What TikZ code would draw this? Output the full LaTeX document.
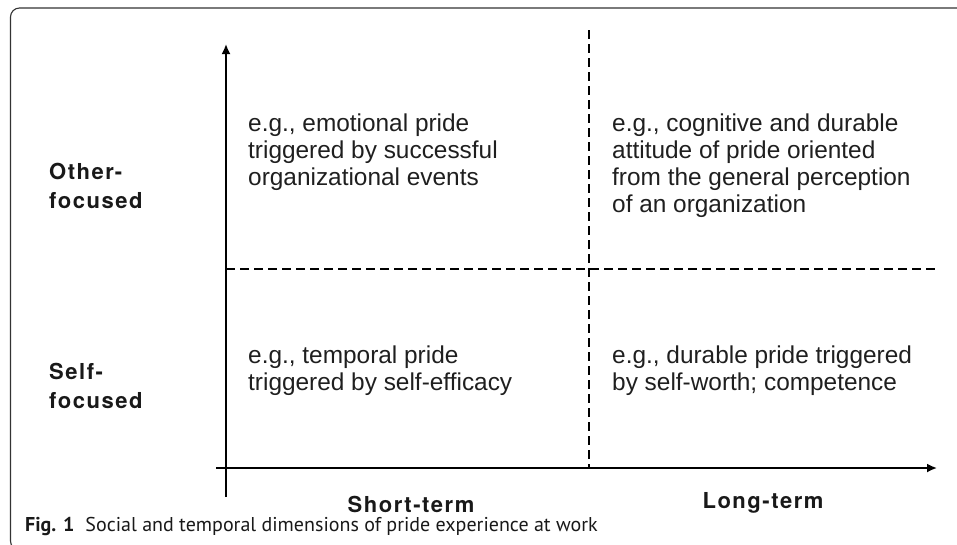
\documentclass[tikz,border=0pt]{standalone}
\usepackage{fontspec}
\setmainfont{Liberation Sans}
\newfontfamily\lblfont[LetterSpace=7]{TeX Gyre Heros}
\newfontfamily\capfont{PT Sans}
\usetikzlibrary{arrows.meta}
\begin{document}
\begin{tikzpicture}[x=1pt,y=-1pt,
  quad/.style={anchor=north west,inner sep=0pt,align=left,text=black!88,
    font=\fontsize{24.4}{27}\selectfont},
  lbl/.style={anchor=north west,inner sep=0pt,align=left,text=black!90,
    font=\lblfont\bfseries\fontsize{22}{28.5}\selectfont},
  axis/.style={line width=1.8pt,-{Latex[length=10pt,width=9pt]}},
  split/.style={line width=1.8pt,dash pattern=on 9pt off 5pt}]
  \useasboundingbox (0,0) rectangle (957,544);
  \draw[line width=1.1pt,black!80,rounded corners=9pt] (10.5,8) rectangle (975,550);

  \coordinate (ybot) at (226,497);
  \coordinate (ytop) at (226,44);
  \coordinate (xleft) at (216,468);
  \coordinate (xright) at (937,468);
  \coordinate (vtop) at (589,30);
  \coordinate (vbot) at (589,468);
  \coordinate (hleft) at (226,269);
  \coordinate (hright) at (935,269);

  \draw[axis] (ybot) -- (ytop);
  \draw[axis] (xleft) -- (xright);
  \draw[split] (vtop) -- (vbot);
  \draw[split] (hleft) -- (hright);

  \node[lbl] (other) at (49,163) {Other-\\focused};
  \node[lbl] (self) at (49,363) {Self-\\focused};
  \node[lbl,anchor=base] (short) at (411,512) {Short-term};
  \node[lbl,anchor=base] (long) at (763,508) {Long-term};

  \node[quad] (ol) at (248,114) {e.g., emotional pride\\triggered by successful\\organizational events};
  \node[quad] (or) at (612,114) {e.g., cognitive and durable\\attitude of pride oriented\\from the general perception\\of an organization};
  \node[quad] (sl) at (248,346) {e.g., temporal pride\\triggered by self-efficacy};
  \node[quad] (sr) at (612,346) {e.g., durable pride triggered\\by self-worth; competence};

  \node[anchor=base west,inner sep=0pt,text=black!90,font=\capfont\fontsize{20}{24}\selectfont] (cap)
    at (25,531) {\textbf{Fig. 1}\hspace{0.55em}Social and temporal dimensions of pride experience at work};
\end{tikzpicture}
\end{document}
